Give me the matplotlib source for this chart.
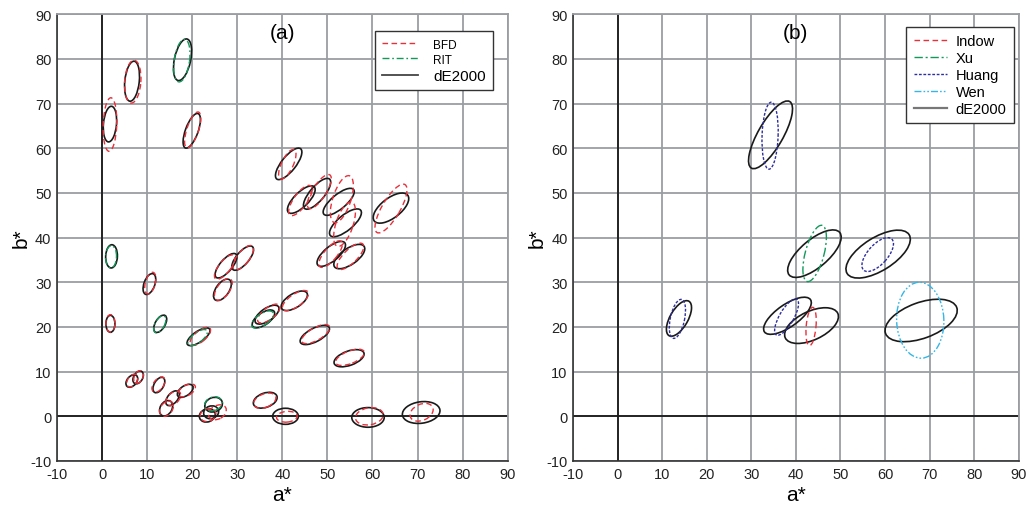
import matplotlib
matplotlib.use('Agg')
import matplotlib.pyplot as plt
from matplotlib.patches import Ellipse
from matplotlib.lines import Line2D

plt.rcParams['font.family'] = ['Liberation Sans', 'DejaVu Sans']
plt.rcParams['axes.unicode_minus'] = False

# each ellipse: (a* centre, b* centre, semi-major, semi-minor, angle deg)
# panel (a)
de2000_a = [(1.75, 65.4, 4.0, 1.45, 85), (6.65, 75.0, 4.5, 1.6, 84),
            (17.85, 79.8, 4.75, 1.8, 78), (19.9, 63.9, 4.1, 1.4, 70),
            (41.4, 56.5, 4.3, 1.6, 52), (44.2, 48.5, 4.05, 1.6, 45),
            (47.7, 49.8, 4.3, 1.6, 50), (52.5, 48.0, 4.3, 1.6, 40),
            (54.0, 43.3, 4.4, 1.7, 40), (64.1, 46.6, 4.7, 2.2, 38),
            (50.85, 36.35, 3.9, 1.6, 40), (54.85, 35.75, 4.0, 1.8, 35),
            (2.1, 35.8, 2.6, 1.3, 88), (10.5, 29.6, 2.45, 1.2, 70),
            (1.85, 20.7, 1.9, 1.0, 90), (12.9, 20.7, 2.15, 1.1, 60),
            (21.4, 17.8, 3.0, 1.2, 35), (26.7, 28.3, 2.75, 1.45, 55),
            (27.5, 33.7, 3.4, 1.35, 50), (31.2, 35.4, 3.35, 1.4, 50),
            (36.6, 22.75, 3.1, 1.4, 35), (35.8, 21.8, 2.9, 1.35, 35),
            (42.65, 25.85, 3.3, 1.55, 32), (47.2, 18.2, 3.6, 1.5, 28),
            (54.8, 13.0, 3.5, 1.6, 20), (6.6, 7.9, 1.6, 1.05, 50),
            (8.0, 8.7, 1.55, 1.0, 60), (12.6, 7.0, 1.9, 1.05, 60),
            (14.2, 1.8, 1.85, 1.3, 60), (15.65, 4.05, 1.95, 1.1, 50),
            (18.45, 5.7, 2.0, 1.1, 35), (24.75, 2.6, 2.0, 1.6, 20),
            (23.35, 0.2, 1.8, 1.45, 20), (24.2, 0.9, 1.7, 1.4, 20),
            (36.2, 3.6, 2.75, 1.6, 20), (40.7, 0.0, 2.85, 1.8, 0),
            (59.0, -0.25, 3.6, 2.2, 0), (70.8, 0.85, 4.2, 2.4, 8)]

bfd_a = [(1.75, 65.3, 6.0, 1.5, 88), (6.8, 74.9, 4.8, 1.8, 86),
         (20.1, 64.1, 4.2, 1.3, 72), (41.1, 56.4, 3.6, 1.3, 65),
         (44.0, 48.3, 4.0, 1.5, 55), (48.2, 50.3, 4.4, 1.5, 58),
         (53.2, 48.6, 5.5, 2.0, 72), (53.8, 43.0, 5.2, 1.9, 72),
         (64.1, 46.5, 6.2, 2.0, 60), (50.7, 36.3, 3.7, 1.4, 50),
         (55.1, 35.8, 3.9, 1.5, 45), (10.7, 29.8, 2.5, 1.1, 75),
         (1.85, 20.8, 1.95, 1.0, 90), (21.8, 17.9, 2.8, 1.2, 40),
         (26.9, 28.4, 2.8, 1.4, 55), (27.2, 33.4, 3.3, 1.3, 52),
         (31.3, 35.5, 3.3, 1.35, 52), (37.0, 23.0, 3.0, 1.3, 38),
         (42.9, 25.9, 3.4, 1.4, 35), (47.4, 18.4, 3.5, 1.4, 30),
         (55.0, 13.2, 3.4, 1.4, 22), (6.7, 8.0, 1.6, 1.0, 55),
         (8.1, 8.8, 1.5, 0.95, 65), (12.5, 7.1, 1.95, 1.1, 55),
         (14.3, 1.7, 1.9, 1.3, 55), (15.8, 4.0, 2.0, 1.2, 45),
         (18.8, 5.8, 2.1, 1.15, 30), (25.6, 0.9, 2.1, 1.5, 30),
         (23.5, 0.3, 1.8, 1.4, 20), (36.1, 3.5, 2.6, 1.5, 22),
         (41.0, -0.1, 2.3, 1.2, 5), (59.3, 0.0, 3.1, 1.9, 10),
         (70.9, 0.9, 2.7, 1.8, 25)]

rit_a = [(17.7, 79.6, 4.8, 1.7, 82), (2.0, 35.7, 2.5, 1.2, 88),
         (12.8, 20.6, 2.1, 1.05, 62), (21.2, 17.6, 2.6, 1.1, 38),
         (35.6, 21.65, 2.8, 1.3, 35), (24.7, 2.8, 2.0, 1.5, 20)]

# panel (b)
de2000_b = [(34.3, 63.0, 8.6, 2.8, 60), (13.75, 21.9, 4.45, 2.0, 60),
            (38.1, 22.5, 6.3, 2.5, 35), (43.5, 20.3, 6.5, 3.2, 25),
            (44.15, 36.4, 7.4, 3.1, 40), (58.45, 36.3, 8.2, 3.7, 32),
            (68.1, 21.45, 8.5, 4.0, 20)]
indow_b = [(43.4, 20.1, 4.3, 1.1, 85)]
xu_b = [(44.2, 36.45, 6.5, 2.1, 75)]
huang_b = [(34.2, 62.8, 7.5, 1.8, 88), (13.4, 21.8, 4.45, 1.6, 78),
           (37.9, 22.2, 4.6, 1.6, 60), (58.35, 36.2, 4.7, 2.2, 48)]
wen_b = [(67.9, 21.5, 8.5, 5.3, 92)]

ticks = list(range(-10, 91, 10))

RED = '#e8303a'
GREEN = '#12995a'
BLUE = '#2e2e9e'
CYAN = '#35b6e6'
BLACK = '#1a1a1a'

styles = {
    'dE2000': dict(color=BLACK, ls='-', lw=1.2),
    'BFD': dict(color=RED, ls=(0, (4, 2.5)), lw=1.0),
    'RIT': dict(color=GREEN, ls=(0, (5, 2, 1.2, 2)), lw=1.0),
    'Indow': dict(color=RED, ls=(0, (4, 2.5)), lw=1.0),
    'Xu': dict(color=GREEN, ls=(0, (6, 2, 1.5, 2)), lw=1.0),
    'Huang': dict(color=BLUE, ls=(0, (2, 1.2)), lw=1.0),
    'Wen': dict(color=CYAN, ls=(0, (5, 1.5, 1.2, 1.5, 1.2, 1.5)), lw=1.0),
}


def draw(ax, ells, name, z):
    st = styles[name]
    for cx, cy, a, b, ang in ells:
        ax.add_patch(Ellipse((cx, cy), 2 * a, 2 * b, angle=ang, fill=False,
                             edgecolor=st['color'], linestyle=st['ls'],
                             linewidth=st['lw'], zorder=z))


def setup(ax):
    ax.set_xlim(-10, 90)
    ax.set_ylim(-10, 90)
    ax.set_xticks(ticks)
    ax.set_yticks(ticks)
    ax.grid(True, color='#9a9ea3', lw=1.3)
    ax.set_axisbelow(True)
    ax.axhline(0, color=BLACK, lw=1.3, zorder=1.5)
    ax.axvline(0, color=BLACK, lw=1.3, zorder=1.5)
    for s in ['top', 'right']:
        ax.spines[s].set_color('#9a9ea3')
        ax.spines[s].set_linewidth(1.3)
    for s in ['left', 'bottom']:
        ax.spines[s].set_color('#333333')
        ax.spines[s].set_linewidth(1.2)
    ax.tick_params(length=0, labelsize=10.5, pad=4, colors='#222222')
    ax.set_xlabel('a*', fontsize=15, labelpad=3)
    ax.set_ylabel('b*', fontsize=15, labelpad=0)


fig = plt.figure(figsize=(10.29, 5.06), dpi=100)
ax1 = fig.add_axes([0.0554, 0.087, 0.438, 0.883])
ax2 = fig.add_axes([0.557, 0.087, 0.433, 0.883])

setup(ax1)
draw(ax1, de2000_a, 'dE2000', 3)
draw(ax1, bfd_a, 'BFD', 4)
draw(ax1, rit_a, 'RIT', 4)
ax1.text(40, 86, '(a)', fontsize=15, ha='center', va='center')

setup(ax2)
draw(ax2, de2000_b, 'dE2000', 3)
draw(ax2, indow_b, 'Indow', 4)
draw(ax2, xu_b, 'Xu', 4)
draw(ax2, huang_b, 'Huang', 4)
draw(ax2, wen_b, 'Wen', 4)
ax2.text(40, 86, '(b)', fontsize=15, ha='center', va='center')


def handle(name, color=None, lw=None):
    st = styles[name]
    return Line2D([], [], color=color or st['color'], ls=st['ls'], lw=lw or st['lw'])


leg1 = ax1.legend([handle('BFD'), handle('RIT'), handle('dE2000', '#444444', 1.3)],
                  ['BFD', 'RIT', 'dE2000'], loc='upper right',
                  bbox_to_anchor=(0.479, 0.937), bbox_transform=fig.transFigure,
                  fancybox=False, framealpha=1, edgecolor='#333333',
                  fontsize=10, handlelength=2.6, handletextpad=1.1,
                  labelspacing=0.2, borderpad=0.5, borderaxespad=0)
leg1.get_frame().set_linewidth(1.0)
for t, fs in zip(leg1.get_texts(), [8.5, 8.5, 11]):
    t.set_fontsize(fs)

leg2 = ax2.legend([handle('Indow'), handle('Xu'), handle('Huang'), handle('Wen'),
                   handle('dE2000', '#777777', 1.6)],
                  ['Indow', 'Xu', 'Huang', 'Wen', 'dE2000'], loc='upper right',
                  bbox_to_anchor=(0.9854, 0.9447), bbox_transform=fig.transFigure,
                  fancybox=False, framealpha=1, edgecolor='#333333',
                  fontsize=10.5, handlelength=2.3, handletextpad=0.6,
                  labelspacing=0.2, borderpad=0.5, borderaxespad=0)
leg2.get_frame().set_linewidth(1.0)

fig.savefig('out.png', dpi=100)
